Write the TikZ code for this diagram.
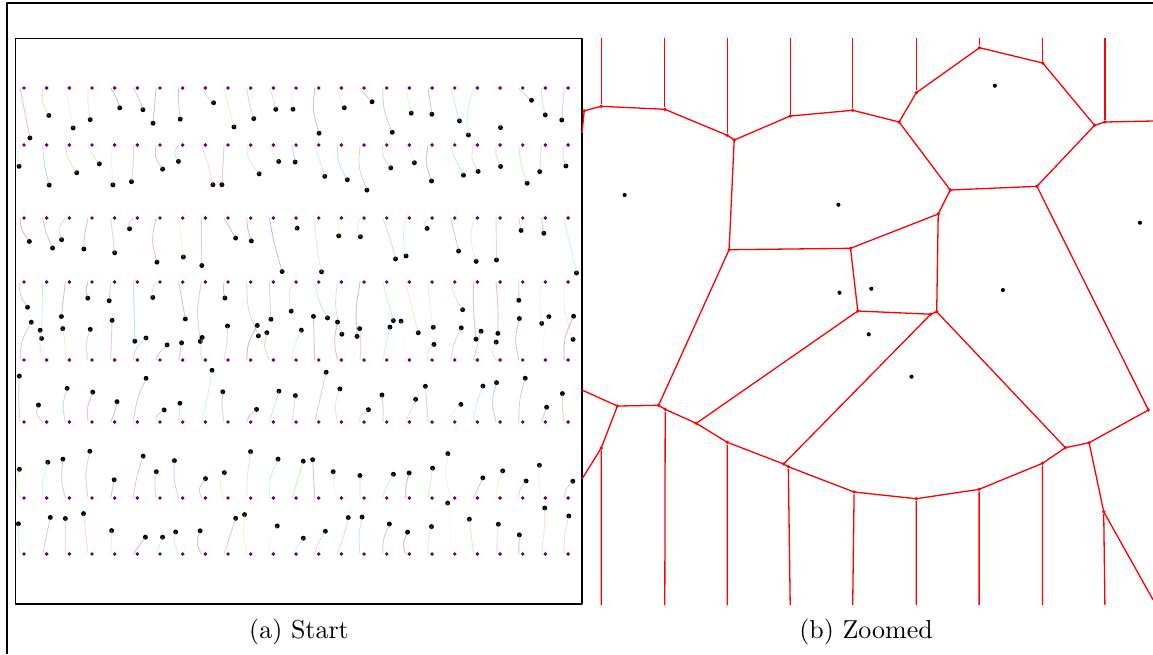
\documentclass[tikz,border=0pt]{standalone}
\usepackage{tikz}
\usetikzlibrary{calc}

\definecolor{grainpurple}{rgb}{0.42,0,0.42}

\begin{document}
\begin{tikzpicture}[x=0.385pt, y=-0.385pt, line join=round,
  frame/.style={line width=0.6pt},
  trace/.style={line width=0.35pt, draw opacity=0.4},
  grain/.style={circle, fill=grainpurple, inner sep=0pt, minimum size=1.5pt},
  moved/.style={circle, fill=black, inner sep=0pt, minimum size=1.9pt},
  cell/.style={red, line width=0.5pt},
  vtx/.style={circle, fill=red, inner sep=0pt, minimum size=1.4pt},
  site/.style={circle, fill=black, inner sep=0pt, minimum size=1.6pt}]
\useasboundingbox (0,0) rectangle (1153,654);

% outer frame
\draw[line width=0.4pt] (7,654) -- (7,3) -- (1153,3);

% (a) grains and their paths
\draw[frame] (15.5,38.5) rectangle (582,604);
\pgfmathsetseed{11}
\foreach \ry/\dir/\lo/\hi [count=\r] in {88/1/12/40, 145/1/12/40, 218/1/10/45, 282/1/15/45,
                                         360/-1/15/32, 422/-1/12/40, 498/-1/15/32, 554/-1/15/38}
  \foreach \c in {0,...,24}{
    \pgfmathsetmacro\gx{24+22.67*\c}
    \pgfmathsetmacro\dx{9*rand}
    \pgfmathsetmacro\dy{\dir*(\lo+\hi*rnd)}
    \pgfmathsetmacro\bend{3.5*rand}
    \pgfmathsetmacro\cr{rnd}
    \pgfmathsetmacro\cg{rnd}
    \pgfmathsetmacro\cb{rnd}
    \definecolor{tracecol}{rgb}{\cr,\cg,\cb}
    \coordinate (s-\r-\c) at (\gx-4,\ry);
    \coordinate (k-\r-\c) at (\gx-4+0.5*\dx+\bend,\ry+0.5*\dy);
    \node[moved] (m-\r-\c) at (\gx+\dx,\ry+\dy) {};
    \node[grain] (g-\r-\c) at (\gx,\ry) {};
    \draw[trace, tracecol!65!white] (s-\r-\c) .. controls (k-\r-\c) .. (m-\r-\c.center);
  }
\node (capa) at (299,632) {(a) Start};

% (b) voronoi cells
\foreach \n/\x in {1/601.2, 2/664.8, 3/727.3, 4/790.2, 5/852.7, 6/916.3, 7/979.5, 8/1042.7, 9/1104.9}
  \coordinate (t\n) at (\x,38);
\foreach \n/\x in {1/601.2, 2/664.8, 3/727.3, 4/790.2, 5/852.7, 6/916.3, 7/979.1, 8/1042.4, 9/1104.9}
  \coordinate (b\n) at (\x,605);
\foreach \n/\p in {1/{584.2,110.8}, 2/{601.2,106.3}, 3/{664.8,109.3}, 4/{727.3,135.3},
                   5/{734.2,140}, 6/{790.2,116}, 7/{852.7,110.3}, 8/{899.1,122},
                   9/{916.3,92.7}, 10/{979.5,47.7}, 11/{1042.7,63}, 12/{1094.6,125.3},
                   13/{1104.9,122}, 14/{950.2,190}, 15/{1036.9,186.3}, 16/{938.2,214},
                   17/{729.1,249.7}, 18/{850.5,248.3}, 19/{857.8,311}, 20/{936.7,311.7},
                   21/{930.8,314.2}}
  \node[vtx] (v\n) at (\p) {};
\foreach \n/\p in {1/{617.4,406}, 2/{658.6,405.3}, 3/{665.2,409.3}, 4/{601.2,448},
                   5/{696.2,423.3}, 6/{727.3,442.3}, 7/{783.6,464}, 8/{788.3,466.7},
                   9/{854.1,492}, 10/{916.3,498.7}, 11/{979.1,489.3}, 12/{1042.4,463.3},
                   13/{1065.4,447.7}, 14/{1089.1,442.7}, 15/{1148.4,410}, 16/{1103.7,511.7}}
  \node[vtx] (w\n) at (\p) {};
\coordinate (e1) at (582,133);
\coordinate (e2) at (1153,121);
\coordinate (e3) at (582,390);
\coordinate (e4) at (582,479);
\coordinate (e5) at (1153,599.7);

\draw[cell] (t1) -- (v2) (t2) -- (v3) (t3) -- (v4) (t4) -- (v6) (t5) -- (v7)
            (t6) -- (v9) (t7) -- (v10) (t8) -- (v11) (t9) -- (v13);
\draw[cell] (w4) -- (b1) (w3) -- (b2) (w6) -- (b3) (w8) -- (b4) (w9) -- (b5)
            (w10) -- (b6) (w11) -- (b7) (w12) -- (b8) (w16) -- (b9);
\draw[cell] (e1) -- (v1.center) -- (v2.center) -- (v3.center) -- (v4.center) -- (v5.center)
            -- (v6.center) -- (v7.center) -- (v8.center) -- (v9.center) -- (v10.center)
            -- (v11.center) -- (v12.center) -- (v13.center) -- (e2);
\draw[cell] (v8.center) -- (v14.center) -- (v15.center) -- (v12.center);
\draw[cell] (v14.center) -- (v16.center) -- (v20.center);
\draw[cell] (v5.center) -- (v17.center) -- (v18.center) -- (v16.center);
\draw[cell] (v18.center) -- (v19.center) -- (v21.center) -- (v20.center);
\draw[cell] (e3) -- (w1.center) -- (w2.center) -- (w3.center) -- (w5.center) -- (w6.center)
            -- (w7.center) -- (w8.center) -- (w9.center) -- (w10.center) -- (w11.center)
            -- (w12.center) -- (w13.center) -- (w14.center) -- (w15.center);
\draw[cell] (w1.center) -- (w4.center) -- (e4);
\draw[cell] (v17.center) -- (w2.center);
\draw[cell] (v19.center) -- (w5.center);
\draw[cell] (v21.center) -- (w7.center);
\draw[cell] (v20.center) -- (w13.center);
\draw[cell] (v15.center) -- (w15.center);
\draw[cell] (w14.center) -- (w16.center) -- (e5);

% cell sites
\foreach \n/\p in {1/{624.6,195}, 2/{838.4,204.7}, 3/{994.8,85.7}, 4/{1139.9,222.7},
                   5/{839.5,292.7}, 6/{871.3,288.7}, 7/{1002.9,290}, 8/{868.7,334.3},
                   9/{911.5,376.7}}
  \node[site] (p\n) at (\p) {};
\node (capb) at (866,632) {(b) Zoomed};
\end{tikzpicture}
\end{document}
